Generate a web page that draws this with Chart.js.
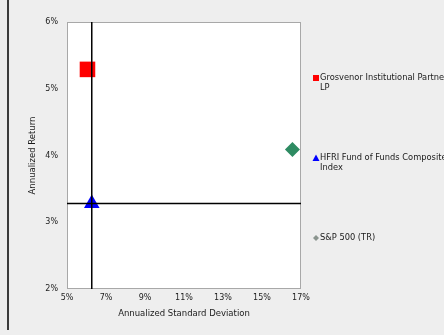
<!DOCTYPE html>
<html>
<head>
<meta charset="utf-8">
<script src="https://cdn.jsdelivr.net/npm/chart.js@4.4.1/dist/chart.umd.min.js"></script>
<style>
  html, body { margin: 0; padding: 0; background: #eeeeee; }
  #wrap { position: relative; width: 444px; height: 335px; overflow: hidden; }
  #edge { position: absolute; left: 7px; top: 0; width: 2px; height: 330px; background: #3c3c3c; }
  canvas { position: absolute; left: 0; top: 0; }
</style>
</head>
<body>
<div id="wrap">
  <canvas id="myChart" width="444" height="335"></canvas>
  <div id="edge"></div>
</div>
<script>
// series (std dev %, return %)
const names = [['Grosvenor Institutional Partners,', 'LP'], ['HFRI Fund of Funds Composite', 'Index'], ['S&P 500 (TR)']]
const stdDev = [6.05, 6.27, 16.56]
const returns = [5.29, 3.28, 4.09]
const colors = ['#ff0000', '#0000ff', '#2e8b62']
const shapes = ['rect', 'triangle', 'rectRot']
const sizes = [11, 9, 7.5]
const xTicks = [5, 7, 9, 11, 13, 15, 17]
const yTicks = [2, 3, 4, 5, 6]
const legendY = [78, 158, 238]

const FONT = 'DejaVu Sans'

let datasets = []
// crosshair through the benchmark (HFRI) point
datasets.push({
  type: 'line',
  data: [{x: stdDev[1], y: yTicks[0]}, {x: stdDev[1], y: yTicks[yTicks.length - 1]}],
  borderColor: '#000', borderWidth: 1.5, pointRadius: 0, showLine: true
})
datasets.push({
  type: 'line',
  data: [{x: xTicks[0], y: returns[1]}, {x: xTicks[xTicks.length - 1], y: returns[1]}],
  borderColor: '#000', borderWidth: 1.5, pointRadius: 0, showLine: true
})
for (let i = 0; i < names.length; i++) {
  datasets.push({
    label: names[i].join(' '),
    data: [{x: stdDev[i], y: returns[i]}],
    pointStyle: shapes[i],
    pointRadius: sizes[i],
    pointHoverRadius: sizes[i],
    backgroundColor: colors[i],
    borderColor: colors[i],
    borderWidth: 0
  })
}

const background = {
  id: 'background',
  beforeDraw(chart) {
    const {ctx, chartArea: a} = chart
    ctx.save()
    ctx.fillStyle = '#ffffff'
    ctx.fillRect(a.left, a.top, a.right - a.left, a.bottom - a.top)
    ctx.strokeStyle = '#a8a8a8'
    ctx.lineWidth = 1
    ctx.strokeRect(a.left + 0.5, a.top + 0.5, a.right - a.left - 1, a.bottom - a.top - 1)
    ctx.restore()
  }
}

const sideLegend = {
  id: 'sideLegend',
  afterDraw(chart) {
    const ctx = chart.ctx
    ctx.save()
    ctx.font = '8.3px "' + FONT + '"'
    ctx.textBaseline = 'middle'
    for (let i = 0; i < names.length; i++) {
      const y = legendY[i]
      ctx.fillStyle = colors[i]
      if (shapes[i] === 'rect') ctx.fillRect(313, y - 3, 6, 6)
      else if (shapes[i] === 'triangle') {
        ctx.beginPath(); ctx.moveTo(316, y - 3.5); ctx.lineTo(319.5, y + 3); ctx.lineTo(312.5, y + 3); ctx.closePath(); ctx.fill()
      } else {
        ctx.fillStyle = '#8a948e'
        ctx.beginPath(); ctx.moveTo(316, y - 3); ctx.lineTo(319, y); ctx.lineTo(316, y + 3); ctx.lineTo(313, y); ctx.closePath(); ctx.fill()
      }
      ctx.fillStyle = '#1a1a1a'
      names[i].forEach((t, j) => ctx.fillText(t, 320, y + j * 10))
    }
    ctx.restore()
  }
}

const ctx = document.getElementById('myChart')
new Chart(ctx, {
  type: 'scatter',
  data: { datasets: datasets },
  options: {
    responsive: false,
    animation: false,
    layout: { padding: { top: 22, left: 20, right: 143, bottom: 14 } },
    plugins: { legend: { display: false }, tooltip: { enabled: false } },
    scales: {
      x: {
        type: 'linear', min: 5, max: 17,
        afterBuildTicks: s => { s.ticks = xTicks.map(v => ({value: v})) },
        afterFit: s => { s.height = 32 },
        grid: { display: false, drawTicks: false },
        border: { display: false },
        ticks: { padding: 4, color: '#222', font: { family: FONT, size: 8 }, callback: v => v + '%' },
        title: { display: true, text: 'Annualized Standard Deviation', color: '#1a1a1a', font: { family: FONT, size: 8.5 }, padding: { top: 0, bottom: 2 } }
      },
      y: {
        type: 'linear', min: 2, max: 6,
        afterBuildTicks: s => { s.ticks = yTicks.map(v => ({value: v})) },
        afterFit: s => { s.width = 47 },
        grid: { display: false, drawTicks: false },
        border: { display: false },
        ticks: { padding: 9, color: '#222', font: { family: FONT, size: 8 }, callback: v => v + '%' },
        title: { display: true, text: 'Annualized Return', color: '#1a1a1a', font: { family: FONT, size: 8.5 }, padding: { top: 8, bottom: 0 } }
      }
    }
  },
  plugins: [background, sideLegend]
})
</script>
</body>
</html>
